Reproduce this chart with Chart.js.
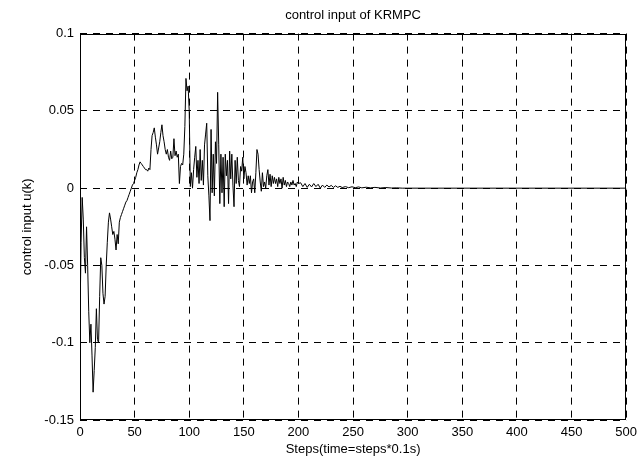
<!DOCTYPE html>
<html>
<head>
<meta charset="utf-8">
<script src="https://cdn.jsdelivr.net/npm/chart.js@4/dist/chart.umd.min.js"></script>
<style>
html,body{margin:0;padding:0;background:#fff;}
#wrap{width:642px;height:461px;position:relative;}
</style>
</head>
<body>
<div id="wrap"><canvas id="c"></canvas></div>
<script>
const chartTitle = 'control input of KRMPC';
const xAxisTitle = 'Steps(time=steps*0.1s)';
const yAxisTitle = 'control input u(k)';

const steps = [
  0,1,2,3,4,5,6,7,8,9,10,11,12,13,14,15,16,17,18,19,
  20,21,22,23,24,25,26,27,28,29,30,31,32,33,34,35,36,37,38,39,
  40,41,42,43,44,45,46,47,48,49,50,51,52,53,54,55,56,57,58,59,
  60,61,62,63,64,65,66,67,68,69,70,71,72,73,74,75,76,77,78,79,
  80,81,82,83,84,85,86,87,88,89,90,91,92,93,94,95,96,97,98,99,
  100,101,102,103,104,105,106,107,108,109,110,111,112,113,114,115,116,117,118,119,
  120,121,122,123,124,125,126,127,128,129,130,131,132,133,134,135,136,137,138,139,
  140,141,142,143,144,145,146,147,148,149,150,151,152,153,154,155,156,157,158,159,
  160,161,162,163,164,165,166,167,168,169,170,171,172,173,174,175,176,177,178,179,
  180,181,182,183,184,185,186,187,188,189,190,191,192,193,194,195,196,197,198,199,
  200,202,204,206,208,210,212,214,216,218,220,222,224,226,228,230,232,234,236,238,
  240,243,246,249,252,255,258,262,266,270,275,280,285,290,295,300,500
];

const controlInput = [
  -0.085,-0.035,-0.006,-0.02,-0.045,-0.055,-0.025,-0.05,-0.08,-0.1,
  -0.088,-0.108,-0.132,-0.118,-0.103,-0.078,-0.098,-0.1,-0.07,-0.045,
  -0.05,-0.068,-0.075,-0.07,-0.05,-0.035,-0.022,-0.016,-0.02,-0.025,
  -0.03,-0.028,-0.033,-0.04,-0.03,-0.036,-0.022,-0.019,-0.017,-0.015,
  -0.013,-0.011,-0.009,-0.008,-0.006,-0.004,-0.002,0.0,0.002,0.003,
  0.005,0.007,0.01,0.012,0.015,0.017,0.016,0.015,0.014,0.013,
  0.012,0.012,0.011,0.013,0.012,0.025,0.034,0.036,0.039,0.033,
  0.028,0.022,0.026,0.03,0.036,0.041,0.034,0.03,0.025,0.022,
  0.025,0.02,0.018,0.024,0.019,0.02,0.032,0.021,0.024,0.02,
  0.022,0.003,0.014,0.016,0.015,0.022,0.04,0.071,0.063,0.066,
  0.05,0.001,0.01,0.0,0.012,0.02,0.027,0.007,0.018,0.003,
  0.025,0.005,0.018,0.002,0.028,0.035,0.042,0.008,-0.005,-0.021,
  0.038,-0.003,0.022,-0.005,0.03,0.016,0.062,0.028,-0.01,0.022,
  -0.003,0.02,-0.012,0.022,0.008,0.018,-0.01,0.024,0.006,0.022,
  0.002,-0.012,0.018,0.003,0.02,0.005,0.001,0.014,0.011,0.02,
  0.006,0.014,0.01,0.002,0.008,0.003,0.008,-0.003,0.004,0.006,
  -0.003,0.01,0.025,0.022,0.012,0.004,-0.002,0.01,0.001,0.004,
  0.0,0.008,0.012,0.002,0.009,0.001,0.008,0.003,0.007,0.003,
  0.006,0.001,0.007,0.003,0.006,0.0,0.007,0.002,0.005,0.001,
  0.004,0.003,0.001,0.004,0.002,0.005,0.002,0.003,0.001,0.004,
  0.003,0.0035,0.001,0.003,0.0005,0.0025,0.0008,0.003,0.001,0.0025,
  0.0,0.002,0.0005,0.002,0.0008,0.0018,0.0005,0.0015,0.0005,0.0012,
  0.0004,0.001,0.0003,0.0009,0.0003,0.0008,0.0002,0.0006,0.0002,0.0005,
  0.0001,0.0004,0.0001,0.0002,0.0,0.0,0.0
];

const xTickValues = [0,50,100,150,200,250,300,350,400,450,500];
const xTickLabels = ['0','50','100','150','200','250','300','350','400','450','500'];
const yTickValues = [-0.15,-0.1,-0.05,0,0.05,0.1];
const yTickLabels = ['-0.15','-0.1','-0.05','0','0.05','0.1'];

const points = steps.map((s, i) => ({x: s, y: controlInput[i]}));
const FONT = '"Liberation Sans", Arial, Helvetica, sans-serif';

const boxPlugin = {
  id: 'box',
  afterDraw(chart) {
    const a = chart.chartArea, ctx = chart.ctx;
    ctx.save();
    ctx.strokeStyle = '#000';
    ctx.lineWidth = 1;
    ctx.setLineDash([]);
    const l = Math.round(a.left) + 0.5, t = Math.round(a.top) + 0.5;
    const r = Math.round(a.right) - 0.5, b = Math.round(a.bottom) - 0.5;
    ctx.strokeRect(l, t, r - l, b - t);
    ctx.restore();
  }
};

new Chart(document.getElementById('c'), {
  type: 'line',
  data: {
    datasets: [{
      data: points,
      borderColor: '#000',
      borderWidth: 1,
      pointRadius: 0,
      tension: 0,
      fill: false
    }]
  },
  options: {
    responsive: true,
    maintainAspectRatio: false,
    animation: false,
    layout: {padding: {left: 0, right: 14, top: 0, bottom: 0}},
    plugins: {
      legend: {display: false},
      tooltip: {enabled: false},
      title: {
        display: true,
        text: chartTitle,
        fullSize: false,
        color: '#000',
        font: {family: FONT, size: 13, weight: 'normal'},
        padding: {top: 8, bottom: 10}
      }
    },
    scales: {
      x: {
        type: 'linear',
        min: 0, max: 500,
        afterBuildTicks: s => { s.ticks = xTickValues.map(v => ({value: v})); },
        afterFit: s => { s.height = 41; },
        ticks: {
          color: '#000',
          font: {family: FONT, size: 13},
          padding: 5,
          maxRotation: 0,
          callback: (v) => xTickLabels[xTickValues.indexOf(v)]
        },
        grid: {color: '#000', lineWidth: 1, drawTicks: false},
        border: {display: false, dash: [7, 6]},
        title: {
          display: true,
          text: xAxisTitle,
          color: '#000',
          font: {family: FONT, size: 13},
          padding: {top: 2, bottom: 4}
        }
      },
      y: {
        type: 'linear',
        min: -0.15, max: 0.1,
        afterBuildTicks: s => { s.ticks = yTickValues.map(v => ({value: v})); },
        afterFit: s => { s.width = 80; },
        ticks: {
          color: '#000',
          font: {family: FONT, size: 13},
          padding: 6,
          callback: (v) => { const i = yTickValues.findIndex(t => Math.abs(t - v) < 1e-9); return i >= 0 ? yTickLabels[i] : ''; }
        },
        grid: {color: '#000', lineWidth: 1, drawTicks: false},
        border: {display: false, dash: [7, 6]},
        title: {
          display: true,
          text: yAxisTitle,
          color: '#000',
          font: {family: FONT, size: 13},
          padding: {top: 20, bottom: 0}
        }
      }
    }
  },
  plugins: [boxPlugin]
});
</script>
</body>
</html>
